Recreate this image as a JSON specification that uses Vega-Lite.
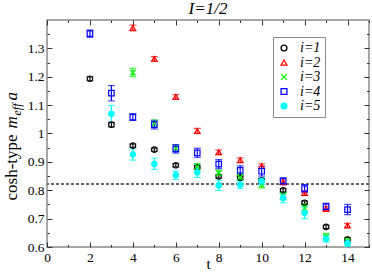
{
  "$schema": "https://vega.github.io/schema/vega-lite/v6.json",
  "width": 322,
  "height": 227,
  "autosize": {"type": "none"},
  "padding": {"left": 47, "top": 20, "right": 3, "bottom": 26},
  "background": "white",
  "config": {
    "view": {"stroke": "#8a8a8a", "strokeWidth": 1.5},
    "axis": {"domain": false, "grid": false, "tickColor": "#333333", "tickWidth": 1, "labelFont": "Liberation Serif", "labelFontSize": 13.5, "labelColor": "#000000", "titleFont": "Liberation Serif", "titleFontSize": 17, "titleFontWeight": "normal", "titleColor": "#000000", "labelFlush": false, "labelOverlap": false, "labelBound": false}
  },
  "title": {"text": "I=1/2", "font": "Liberation Serif", "fontStyle": "italic", "fontSize": 17, "fontWeight": "normal", "color": "#000000", "offset": 2, "anchor": "middle"},
  "data": {"values": [
    {"t": 2, "m": 1.193, "err": 0.007, "series": "i=1"},
    {"t": 3, "m": 1.031, "err": 0.008, "series": "i=1"},
    {"t": 4, "m": 0.957, "err": 0.006, "series": "i=1"},
    {"t": 5, "m": 0.943, "err": 0.006, "series": "i=1"},
    {"t": 6, "m": 0.888, "err": 0.006, "series": "i=1"},
    {"t": 7, "m": 0.881, "err": 0.006, "series": "i=1"},
    {"t": 8, "m": 0.849, "err": 0.006, "series": "i=1"},
    {"t": 9, "m": 0.844, "err": 0.006, "series": "i=1"},
    {"t": 10, "m": 0.835, "err": 0.006, "series": "i=1"},
    {"t": 11, "m": 0.8, "err": 0.006, "series": "i=1"},
    {"t": 12, "m": 0.756, "err": 0.006, "series": "i=1"},
    {"t": 13, "m": 0.671, "err": 0.006, "series": "i=1"},
    {"t": 14, "m": 0.626, "err": 0.008, "series": "i=1"},
    {"t": 4, "m": 1.372, "err": 0.01, "series": "i=2"},
    {"t": 5, "m": 1.263, "err": 0.008, "series": "i=2"},
    {"t": 6, "m": 1.129, "err": 0.008, "series": "i=2"},
    {"t": 7, "m": 1.009, "err": 0.009, "series": "i=2"},
    {"t": 8, "m": 0.934, "err": 0.008, "series": "i=2"},
    {"t": 9, "m": 0.906, "err": 0.008, "series": "i=2"},
    {"t": 10, "m": 0.885, "err": 0.008, "series": "i=2"},
    {"t": 11, "m": 0.828, "err": 0.008, "series": "i=2"},
    {"t": 12, "m": 0.79, "err": 0.008, "series": "i=2"},
    {"t": 13, "m": 0.734, "err": 0.008, "series": "i=2"},
    {"t": 14, "m": 0.676, "err": 0.007, "series": "i=2"},
    {"t": 4, "m": 1.215, "err": 0.015, "series": "i=3"},
    {"t": 5, "m": 1.036, "err": 0.012, "series": "i=3"},
    {"t": 6, "m": 0.948, "err": 0.012, "series": "i=3"},
    {"t": 7, "m": 0.884, "err": 0.01, "series": "i=3"},
    {"t": 8, "m": 0.861, "err": 0.01, "series": "i=3"},
    {"t": 9, "m": 0.846, "err": 0.01, "series": "i=3"},
    {"t": 10, "m": 0.82, "err": 0.012, "series": "i=3"},
    {"t": 11, "m": 0.779, "err": 0.012, "series": "i=3"},
    {"t": 12, "m": 0.738, "err": 0.015, "series": "i=3"},
    {"t": 13, "m": 0.636, "err": 0.012, "series": "i=3"},
    {"t": 14, "m": 0.62, "err": 0.012, "series": "i=3"},
    {"t": 2, "m": 1.352, "err": 0.013, "series": "i=4"},
    {"t": 3, "m": 1.142, "err": 0.027, "series": "i=4"},
    {"t": 4, "m": 1.058, "err": 0.012, "series": "i=4"},
    {"t": 5, "m": 1.031, "err": 0.015, "series": "i=4"},
    {"t": 6, "m": 0.946, "err": 0.015, "series": "i=4"},
    {"t": 7, "m": 0.932, "err": 0.016, "series": "i=4"},
    {"t": 8, "m": 0.892, "err": 0.016, "series": "i=4"},
    {"t": 9, "m": 0.87, "err": 0.016, "series": "i=4"},
    {"t": 10, "m": 0.867, "err": 0.017, "series": "i=4"},
    {"t": 11, "m": 0.832, "err": 0.012, "series": "i=4"},
    {"t": 12, "m": 0.806, "err": 0.014, "series": "i=4"},
    {"t": 13, "m": 0.742, "err": 0.012, "series": "i=4"},
    {"t": 14, "m": 0.732, "err": 0.018, "series": "i=4"},
    {"t": 3, "m": 1.069, "err": 0.03, "series": "i=5"},
    {"t": 4, "m": 0.926, "err": 0.02, "series": "i=5"},
    {"t": 5, "m": 0.893, "err": 0.02, "series": "i=5"},
    {"t": 6, "m": 0.853, "err": 0.015, "series": "i=5"},
    {"t": 7, "m": 0.863, "err": 0.018, "series": "i=5"},
    {"t": 8, "m": 0.817, "err": 0.018, "series": "i=5"},
    {"t": 9, "m": 0.82, "err": 0.013, "series": "i=5"},
    {"t": 10, "m": 0.832, "err": 0.012, "series": "i=5"},
    {"t": 11, "m": 0.773, "err": 0.017, "series": "i=5"},
    {"t": 12, "m": 0.72, "err": 0.02, "series": "i=5"},
    {"t": 13, "m": 0.629, "err": 0.012, "series": "i=5"},
    {"t": 14, "m": 0.613, "err": 0.012, "series": "i=5"}
  ]},
  "resolve": {"axis": {"x": "independent", "y": "independent"}},
  "layer": [
    {
      "mark": {"type": "rule", "strokeDash": [3, 2], "color": "#666666", "strokeWidth": 0.9},
      "encoding": {"y": {"datum": 0.822, "type": "quantitative", "scale": {"domain": [0.6, 1.4], "nice": false, "zero": false}, "axis": null}}
    },
    {
      "mark": {"type": "errorbar", "ticks": {"size": 7, "thickness": 1.2}, "thickness": 1.2, "clip": true},
      "encoding": {
        "x": {"field": "t", "type": "quantitative", "scale": {"domain": [0, 15], "nice": false, "zero": false},
              "axis": {"orient": "bottom", "values": [0, 2, 4, 6, 8, 10, 12, 14], "tickSize": -5, "labelPadding": 8, "labelFont": "Liberation Serif", "labelFontSize": 13.5, "title": "t", "titleFont": "Liberation Serif", "titleFontSize": 15, "titlePadding": -7}},
        "y": {"field": "m", "type": "quantitative", "scale": {"domain": [0.6, 1.4], "nice": false, "zero": false},
              "axis": {"orient": "left", "values": [0.6, 0.7, 0.8, 0.9, 1.0, 1.1, 1.2, 1.3], "format": ".2~f", "tickSize": -5, "labelPadding": 8, "labelFont": "Liberation Serif", "labelFontSize": 13.5,
                       "title": "cosh-type", "titleFont": "Liberation Serif", "titleFontSize": 17, "titleAngle": 270, "titleAlign": "left", "titleBaseline": "alphabetic", "titleX": -31, "titleY": 180}},
        "yError": {"field": "err"},
        "color": {"field": "series", "type": "nominal", "scale": {"range": ["#000000", "#ff0000", "#00ee00", "#0000ff", "#00ffff"]}, "legend": null}
      }
    },
    {
      "mark": {"type": "point", "filled": true, "strokeWidth": 1.2, "size": 30, "opacity": 1, "clip": true},
      "encoding": {
        "x": {"field": "t", "type": "quantitative", "scale": {"domain": [0, 15], "nice": false, "zero": false},
              "axis": {"orient": "bottom", "values": [1, 3, 5, 7, 9, 11, 13, 15], "tickSize": -2.5, "labels": false, "title": null}},
        "y": {"field": "m", "type": "quantitative", "scale": {"domain": [0.6, 1.4], "nice": false, "zero": false},
              "axis": {"orient": "left", "values": [0.65, 0.75, 0.85, 0.95, 1.05, 1.15, 1.25, 1.35], "tickSize": -2.5, "labels": false,
                       "title": "m", "titleFont": "Liberation Serif", "titleFontStyle": "italic", "titleFontSize": 17, "titleAngle": 270, "titleAlign": "left", "titleBaseline": "alphabetic", "titleX": -31, "titleY": 108}},
        "stroke": {"field": "series", "type": "nominal", "scale": {"domain": ["i=1", "i=2", "i=3", "i=4", "i=5"], "range": ["#000000", "#ff0000", "#00ee00", "#0000ff", "#00ffff"]},
                   "legend": {"title": null, "orient": "none", "legendX": 226, "legendY": 17, "strokeColor": "#8a8a8a", "fillColor": "white", "padding": 4, "labelFont": "Liberation Serif", "labelFontStyle": "italic", "labelFontSize": 14, "labelColor": "#000000", "labelOffset": 9, "symbolSize": 34, "symbolStrokeWidth": 1.3, "rowPadding": 0.5, "cornerRadius": 0}},
        "fill": {"field": "series", "type": "nominal", "scale": {"domain": ["i=1", "i=2", "i=3", "i=4", "i=5"], "range": ["transparent", "transparent", "transparent", "transparent", "#00ffff"]},
                 "legend": {"title": null, "orient": "none", "legendX": 226, "legendY": 17, "strokeColor": "#8a8a8a", "fillColor": "white", "padding": 4, "labelFont": "Liberation Serif", "labelFontStyle": "italic", "labelFontSize": 14, "labelColor": "#000000", "labelOffset": 9, "symbolSize": 34, "symbolStrokeWidth": 1.3, "rowPadding": 0.5, "cornerRadius": 0}},
        "shape": {"field": "series", "type": "nominal", "scale": {"domain": ["i=1", "i=2", "i=3", "i=4", "i=5"], "range": ["circle", "triangle-up", "M-1,-1L1,1M1,-1L-1,1", "square", "circle"]},
                  "legend": {"title": null, "orient": "none", "legendX": 226, "legendY": 17, "strokeColor": "#8a8a8a", "fillColor": "white", "padding": 4, "labelFont": "Liberation Serif", "labelFontStyle": "italic", "labelFontSize": 14, "labelColor": "#000000", "labelOffset": 9, "symbolSize": 34, "symbolStrokeWidth": 1.3, "rowPadding": 0.5, "cornerRadius": 0}}
      }
    },
    {
      "mark": {"type": "point", "opacity": 0},
      "encoding": {
        "x": {"field": "t", "type": "quantitative", "scale": {"domain": [0, 15], "nice": false, "zero": false},
              "axis": {"orient": "top", "values": [0, 2, 4, 6, 8, 10, 12, 14], "tickSize": -5, "labels": false,
                       "title": "eff", "titleFont": "Liberation Serif", "titleFontStyle": "italic", "titleFontSize": 12, "titleAngle": 270, "titleAlign": "left", "titleBaseline": "alphabetic", "titleX": -27, "titleY": 95}},
        "y": {"field": "m", "type": "quantitative", "scale": {"domain": [0.6, 1.4], "nice": false, "zero": false},
              "axis": {"orient": "right", "values": [0.6, 0.7, 0.8, 0.9, 1.0, 1.1, 1.2, 1.3], "tickSize": -5, "labels": false, "title": null}}
      }
    },
    {
      "mark": {"type": "point", "opacity": 0},
      "encoding": {
        "x": {"field": "t", "type": "quantitative", "scale": {"domain": [0, 15], "nice": false, "zero": false},
              "axis": {"orient": "top", "values": [1, 3, 5, 7, 9, 11, 13, 15], "tickSize": -2.5, "labels": false,
                       "title": "a", "titleFont": "Liberation Serif", "titleFontStyle": "italic", "titleFontSize": 17, "titleAngle": 270, "titleAlign": "left", "titleBaseline": "alphabetic", "titleX": -31, "titleY": 80}},
        "y": {"field": "m", "type": "quantitative", "scale": {"domain": [0.6, 1.4], "nice": false, "zero": false},
              "axis": {"orient": "right", "values": [0.65, 0.75, 0.85, 0.95, 1.05, 1.15, 1.25, 1.35], "tickSize": -2.5, "labels": false, "title": null}}
      }
    }
  ]
}
